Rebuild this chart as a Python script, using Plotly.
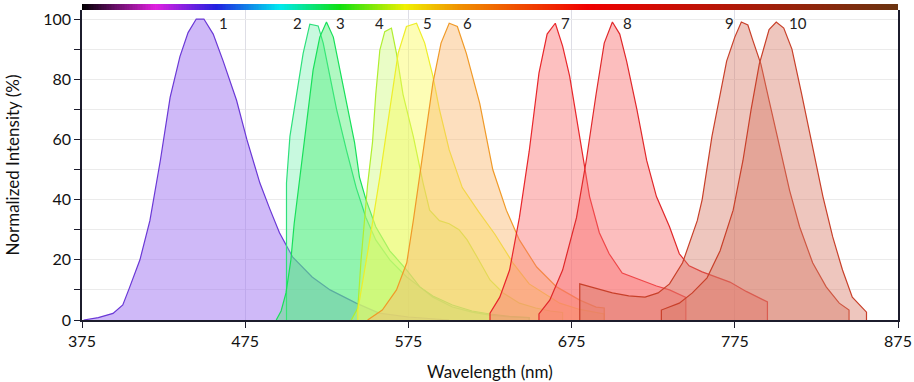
import plotly.graph_objects as go

# ---------------- data ----------------
wl1 = [376, 385, 394, 400, 404, 410.5, 416.6, 423, 429, 435, 440, 445, 449.7, 455.4, 461.5, 469.7, 476, 484, 490, 496, 504, 516, 527, 543, 557, 575, 600]
v1 = [0, 0.8, 2.2, 5, 10.6, 20, 33, 53, 74, 87.5, 95.5, 100, 100, 95, 86, 73, 60, 45.5, 37, 29, 21, 14.3, 10, 5.6, 2.3, 1, 0]

wl2 = [500.3, 500.3, 502.4, 506.5, 510.5, 514.6, 519.7, 522.8, 527, 531, 537, 543, 549, 555, 563.6, 574, 582, 590, 602, 614, 625, 637, 649, 649]
v2 = [0, 45.5, 61, 75, 88.6, 98.3, 97.7, 92, 81, 70, 56.5, 44, 34, 26.6, 20, 14.3, 11, 7.6, 4.3, 2.6, 1.6, 1, 0.8, 0]

wl3 = [494, 497, 500, 503, 505, 508.5, 512.6, 516.6, 520.7, 524.8, 529, 533, 537, 542, 545, 549, 555, 563.6, 574, 582, 590, 602, 614, 625, 637, 649, 649]
v3 = [0, 3, 9, 20, 32, 47.5, 66, 83, 94, 99, 94, 83, 72, 59, 47.5, 40, 31, 23, 16.6, 11, 8, 5, 3, 2, 1.2, 0.8, 0]

wl4 = [540, 544, 546, 548, 550, 553, 555, 557.5, 560.5, 564.6, 567.7, 571.7, 578, 584, 588, 594, 600, 606, 611, 617, 625, 633, 643, 653, 662, 669.5, 669.5]
v4 = [0, 4, 20, 34, 45, 59, 75, 89.7, 95.8, 97, 88.6, 75, 61, 45.5, 36.5, 33, 32, 30, 26.6, 21, 13.3, 9, 5.6, 4, 3, 2.5, 0]

wl5 = [544, 544, 551, 557.5, 563.6, 568.7, 573.8, 580, 585, 590, 594, 600, 608, 618, 628, 639, 649, 659.6, 667.7, 680, 695, 695]
v5 = [0, 3.3, 25.6, 47.5, 70, 88.6, 97.5, 98.6, 92, 81, 70, 56.5, 44, 36, 28.5, 19, 12, 8.3, 5.6, 3.5, 2, 0]

wl6 = [550, 559, 567.7, 574, 578, 584, 590, 595, 600, 605, 610.5, 618.7, 626.7, 635, 643, 653.6, 665.8, 680, 690, 695, 695]
v6 = [0, 3.3, 10, 19, 33, 56.5, 78.7, 92, 98.6, 97.5, 88.6, 72, 50, 36.5, 26.6, 17.6, 11, 6.6, 4.3, 4, 0]

wl7 = [625, 625, 631, 637, 643, 649, 655, 660, 665, 669.5, 673.8, 680, 686, 692, 698, 706, 717, 727, 735, 745, 745]
v7 = [0, 2.3, 7.6, 16.6, 34, 56, 82, 95, 98.6, 91, 81, 61, 41, 29, 22, 15.6, 13.3, 11.3, 10, 7.5, 0]

wl8 = [655, 655, 661.6, 669.5, 678, 684, 690, 695, 700, 704.5, 708.7, 715, 721, 727, 735, 741, 747, 755, 772, 782, 795, 795]
v8 = [0, 2, 6.6, 16.6, 34, 53, 75, 92, 99, 95, 86, 70, 53, 41, 31, 22, 18, 16, 12.6, 9.5, 6, 0]

wl9 = [680, 680, 690, 700, 710, 720, 728, 735, 743, 748, 752, 755, 761, 770, 775, 779, 783, 786, 791, 796, 802, 808.6, 814.7, 822.7, 831, 839, 845, 845]
v9 = [0, 12, 10.5, 9, 8, 7.6, 9, 12, 19, 27, 33, 40, 61, 86, 94, 99, 98, 93, 85, 73, 59, 43, 31, 19, 11, 5.6, 3.3, 0]

wl10 = [730, 730, 741, 749, 758, 766, 774, 780, 785, 790, 796, 800.4, 805, 810, 816, 822, 829, 835, 841, 847, 855.7, 855.7]
v10 = [0, 3.3, 5.6, 9, 14, 23, 36.5, 53, 70, 85, 96.5, 99, 97, 90, 75, 59, 41, 27.6, 16.6, 7.6, 2.6, 0]

labels = ["1", "2", "3", "4", "5", "6", "7", "8", "9", "10"]
label_x = [462, 507.3, 533.3, 557, 587, 611, 671, 709.5, 771.5, 813.5]

x_ticks = [375, 475, 575, 675, 775, 875]
y_ticks = [0, 20, 40, 60, 80, 100]

x_title = "Wavelength (nm)"
y_title = "Normalized Intensity (%)"

spectrum_wl = list(range(375, 876))

# ---------------- styles ----------------
line_colors = ["#6a38d6", "#2ee07c", "#18e05a", "#b0ee30", "#eeee2a", "#f09a28",
               "#e8262a", "#e0282a", "#c8402a", "#c8402a"]
fill_colors = ["rgba(160,115,242,0.50)", "rgba(110,240,170,0.38)", "rgba(70,238,110,0.42)",
               "rgba(205,250,120,0.42)", "rgba(250,250,90,0.45)", "rgba(250,185,110,0.45)",
               "rgba(250,115,115,0.45)", "rgba(248,110,110,0.45)", "rgba(215,120,100,0.42)",
               "rgba(215,120,100,0.42)"]

series = [(wl1, v1), (wl2, v2), (wl3, v3), (wl4, v4), (wl5, v5),
          (wl6, v6), (wl7, v7), (wl8, v8), (wl9, v9), (wl10, v10)]

fig = go.Figure()
for i, (xs, ys) in enumerate(series):
    fig.add_trace(go.Scatter(
        x=xs, y=ys, mode="lines", fill="tozeroy",
        line=dict(color=line_colors[i], width=1.2),
        fillcolor=fill_colors[i], showlegend=False, hoverinfo="skip"))

# spectrum colour bar on top
spec_scale = [[0.0, "#000000"], [0.09, "#e020e0"], [0.165, "#2020e0"], [0.242, "#00e8f0"],
              [0.316, "#10e010"], [0.396, "#f0f000"], [0.463, "#f09000"], [0.618, "#f00000"],
              [1.0, "#6a3410"]]
fig.add_trace(go.Heatmap(x=spectrum_wl, y=[0], z=[spectrum_wl], colorscale=spec_scale,
                         zmin=375, zmax=875, showscale=False, xaxis="x", yaxis="y2",
                         hoverinfo="skip"))

for lx, lt in zip(label_x, labels):
    fig.add_annotation(x=lx, y=98.8, text=lt, showarrow=False, xanchor="center",
                       yanchor="middle", font=dict(size=15, color="#222"))

# axis titles as paper-positioned annotations
fig.add_annotation(x=0.5, y=-0.162, xref="paper", yref="paper", text=x_title,
                   showarrow=False, xanchor="center", yanchor="middle",
                   font=dict(size=17, color="#111"))
fig.add_annotation(x=-0.0855, y=0.49, xref="paper", yref="paper", text=y_title,
                   showarrow=False, xanchor="center", yanchor="middle", textangle=-90,
                   font=dict(size=17, color="#111"))

FONT = "Lato, Open Sans, sans-serif"
axis_line = "#1c1c2c"
fig.update_layout(
    width=914, height=382,
    margin=dict(l=82, r=16, t=4, b=62, autoexpand=False),
    paper_bgcolor="white", plot_bgcolor="white",
    font=dict(family=FONT, size=16, color="#111"),
    xaxis=dict(range=[375, 875], tickvals=x_ticks, ticks="outside", ticklen=6,
               tickcolor=axis_line, showline=True, linecolor=axis_line, linewidth=1.5,
               showgrid=True, gridcolor="#dedee6", gridwidth=1, zeroline=False,
               automargin=False, tickfont=dict(size=16)),
    yaxis=dict(range=[0, 103], domain=[0, 0.981], tickvals=y_ticks, ticks="outside",
               ticklen=6, tickcolor=axis_line, showline=True, linecolor=axis_line,
               linewidth=1.5, mirror=True, showgrid=True, gridcolor="#ebebeb",
               zeroline=False, automargin=False, tickfont=dict(size=16),
               minor=dict(dtick=10, ticks="outside", ticklen=6, tickcolor=axis_line,
                          showgrid=True, gridcolor="#ebebeb")),
    yaxis2=dict(domain=[0.981, 1.0], range=[-0.5, 0.5], showticklabels=False,
                showgrid=False, zeroline=False, ticks="", automargin=False),
)

fig.write_html("out.html", config={"displayModeBar": False},
               post_script="document.body.style.margin='0';document.body.style.overflow='hidden';")
